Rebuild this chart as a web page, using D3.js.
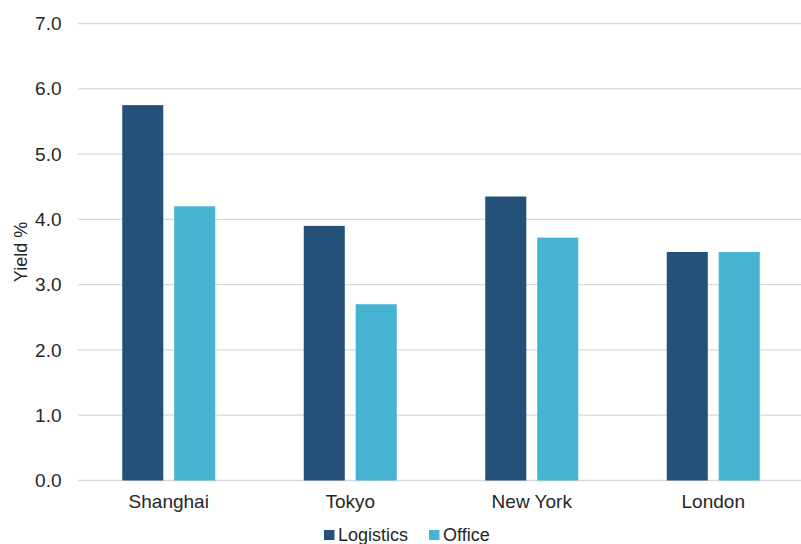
<!DOCTYPE html>
<html>
<head>
<meta charset="utf-8">
<title>Yield by city</title>
<script src="https://d3js.org/d3.v7.min.js"></script>
<style>
  body { margin: 0; background: #fff; }
  svg text { font-family: "Liberation Sans", Arial, sans-serif; fill: #262626; }
</style>
</head>
<body>
<svg width="801" height="544"></svg>
<script>
// data
var cities = ["Shanghai", "Tokyo", "New York", "London"];
var seriesNames = ["Logistics", "Office"];
var logistics = [5.75, 3.9, 4.35, 3.5];
var office = [4.2, 2.7, 3.72, 3.5];
var yTicks = [0, 1, 2, 3, 4, 5, 6, 7];
var colors = ["#24507a", "#46b3d2"];

var svg = d3.select("svg");
var plotLeft = 78, plotRight = 804, plotTop = 23.5, plotBottom = 480.5;

var x = d3.scaleBand().domain(cities).range([plotLeft, plotRight]);
var y = d3.scaleLinear().domain([0, 7]).range([plotBottom, plotTop]);
var sub = d3.scaleBand().domain(seriesNames).range([-46.5, 46.5]).paddingInner(0.21);

// grid
svg.append("g").selectAll("line").data(yTicks).join("line")
    .attr("x1", plotLeft).attr("x2", 801)
    .attr("y1", function(d) { return y(d); })
    .attr("y2", function(d) { return y(d); })
    .attr("stroke", "#d9d9d9").attr("stroke-width", 1.3);

// y axis labels
var yAxis = d3.axisLeft(y).tickValues(yTicks).tickFormat(d3.format(".1f")).tickSize(0).tickPadding(16.5);
var ya = svg.append("g").attr("transform", "translate(" + plotLeft + ",0)").call(yAxis);
ya.select(".domain").remove();
ya.selectAll("text").style("font-size", "19px").attr("fill", "#262626");

svg.append("text")
    .attr("transform", "translate(26.5," + ((plotTop + plotBottom) / 2) + ") rotate(-90)")
    .attr("text-anchor", "middle")
    .style("font-size", "18px")
    .text("Yield %");

// bars
var rows = cities.map(function(c, i) { return {city: c, vals: [logistics[i], office[i]]}; });
var groups = svg.append("g").selectAll("g").data(rows).join("g")
    .attr("transform", function(d) { return "translate(" + (x(d.city) + x.bandwidth() / 2) + ",0)"; });
groups.selectAll("rect").data(function(d) {
        return d.vals.map(function(v, j) { return {name: seriesNames[j], v: v, j: j}; });
    }).join("rect")
    .attr("x", function(d) { return sub(d.name); })
    .attr("width", sub.bandwidth())
    .attr("y", function(d) { return y(d.v); })
    .attr("height", function(d) { return y(0) - y(d.v); })
    .attr("fill", function(d) { return colors[d.j]; });

// x axis labels
var xAxis = d3.axisBottom(x).tickSize(0).tickPadding(14);
var xa = svg.append("g").attr("transform", "translate(0," + plotBottom + ")").call(xAxis);
xa.select(".domain").remove();
xa.selectAll("text").style("font-size", "19px").attr("fill", "#262626");

// legend
var legendX = [324, 429];
var lg = svg.append("g").selectAll("g").data(seriesNames).join("g")
    .attr("transform", function(d, i) { return "translate(" + legendX[i] + ",530)"; });
lg.append("rect").attr("width", 10.5).attr("height", 10)
    .attr("fill", function(d, i) { return colors[i]; });
lg.append("text").attr("x", 14).attr("y", 11)
    .style("font-size", "18px")
    .text(function(d) { return d; });
</script>
</body>
</html>
